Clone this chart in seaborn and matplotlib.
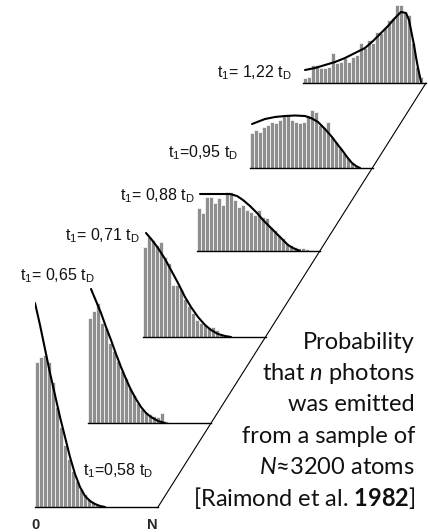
import numpy as np
import pandas as pd
import matplotlib
matplotlib.use("Agg")
import matplotlib.pyplot as plt
import seaborn as sns
from matplotlib.lines import Line2D

# ---------------- data ----------------
labels = ["=0,58", "= 0,65", "= 0,71", "= 0,88", "=0,95", "= 1,22"]

bars_058 = [145, 150, 152, 145, 125, 100, 80, 62, 48, 36, 26, 18, 13, 8, 5, 3, 2, 1]
bars_065 = [105, 112, 120, 100, 95, 80, 72, 62, 52, 45, 35, 28, 20, 14, 11, 9, 7, 6, 10, 2]
bars_071 = [90, 100, 97, 92, 95, 80, 74, 52, 52, 48, 38, 31, 24, 17, 14, 12, 10, 10, 7, 2, 1]
bars_088 = [43, 38, 54, 54, 48, 53, 46, 59, 59, 51, 44, 46, 41, 39, 36, 41, 34, 33, 24, 21,
            16, 13, 8, 6, 4, 3, 3, 2, 1]
bars_095 = [35, 38, 36, 41, 43, 46, 45, 48, 53, 53, 48, 46, 45, 46, 53, 58, 56, 43, 41, 46,
            31, 26, 20, 15, 10, 5, 2, 1]
bars_122 = [5, 6, 18, 18, 15, 15, 16, 30, 20, 21, 25, 21, 26, 28, 40, 35, 43, 40, 51, 50,
            55, 63, 65, 78, 78, 70, 68, 40, 16, 6]

curve_058_x = [-0.5, 0.75, 2.0, 3.25, 4.5, 5.75, 7.0, 8.25, 9.5, 10.75, 12.0, 13.25, 14.5, 15.75, 17.0]
curve_058_y = [204, 182, 158, 134, 112, 90, 70, 50, 33, 20, 11, 6, 3, 1, 0]

curve_065_x = [0.25, 1.5, 2.75, 4.0, 5.25, 6.5, 7.75, 9.0, 10.25, 11.5, 12.75, 14.0, 15.25, 17.0, 18.75]
curve_065_y = [134, 122, 110, 96, 83, 69, 56, 44, 33, 24, 16, 10, 6, 2, 0]

curve_071_x = [0.25, 1.75, 3.25, 5.0, 6.5, 8.25, 10.0, 11.5, 13.25, 15.0, 16.5, 18.25, 20.0, 21.5]
curve_071_y = [104, 97, 89, 78, 67, 54, 40, 30, 20, 12, 7, 3, 1, 0]

curve_088_x = [0.25, 3.25, 5.75, 7.75, 9.5, 11.0, 12.75, 14.5, 16.0, 17.75, 19.5, 21.0, 22.25, 23.5, 25.25]
curve_088_y = [57, 57, 57, 57, 55, 51, 45, 38, 31, 24, 17, 11, 6, 3, 0]

curve_095_x = [0.0, 3.25, 5.75, 8.25, 10.75, 13.25, 15.0, 16.5, 18.25, 20.0, 21.5, 22.5, 23.75, 25.0, 26.0, 27.0]
curve_095_y = [44, 49, 51, 52, 52.5, 52, 49.5, 46, 39, 31, 23, 18, 11, 5, 2, 0]

curve_122_x = [0.0, 2.5, 5.0, 7.5, 10.0, 12.5, 15.0, 17.0, 19.0, 20.75, 22.5, 24.0, 25.25, 26.0,
               26.5, 27.25, 27.75, 28.25, 28.75, 29.0]
curve_122_y = [13, 15, 18, 21, 25, 30, 35, 42, 50, 57, 65, 71, 70, 63, 53, 38, 26, 15, 6, 1]

bars_all = [bars_058, bars_065, bars_071, bars_088, bars_095, bars_122]
curves_x = [curve_058_x, curve_065_x, curve_071_x, curve_088_x, curve_095_x, curve_122_x]
curves_y = [curve_058_y, curve_065_y, curve_071_y, curve_088_y, curve_095_y, curve_122_y]

note_lines = ["Probability", r"that $\mathit{n}$ photons", "was emitted",
              "from a sample of", r"$\mathit{N}$≈3200 atoms",
              r"[Raimond et al. $\mathbf{1982}$]"]

# ---------------- style ----------------
sns.set_style("white")
plt.rcParams['font.family'] = ['Liberation Sans', 'DejaVu Sans']
plt.rcParams['mathtext.fontset'] = 'custom'
plt.rcParams['mathtext.rm'] = 'Lato'
plt.rcParams['mathtext.it'] = 'Lato:italic'
plt.rcParams['mathtext.bf'] = 'Lato:bold'

W, Hf = 428, 532
fig = plt.figure(figsize=(W / 100, Hf / 100), dpi=100)

lefts = [35, 88, 143, 197, 250, 303]
bases = [507, 423, 337, 251, 168, 83]
pw = 123
bin_px = 4.0

for L, B, bars, cx, cy in zip(lefts, bases, bars_all, curves_x, curves_y):
    h = min(215, B)
    ax = fig.add_axes([L / W, 1 - B / Hf, pw / W, h / Hf])
    df = pd.DataFrame({"n": np.arange(len(bars)), "p": bars})
    sns.barplot(data=df, x="n", y="p", ax=ax, color="#8e8e8e", saturation=1,
                width=1.0, edgecolor="white", linewidth=0.5)
    sns.lineplot(x=cx, y=cy, ax=ax, color="black", linewidth=1.5)
    ax.set_xlim(-0.5, -0.5 + pw / bin_px)
    ax.set_ylim(0, h)
    for s in ["top", "left", "right"]:
        ax.spines[s].set_visible(False)
    ax.spines["bottom"].set_color("black")
    ax.spines["bottom"].set_linewidth(1.0)
    ax.set_xticks([])
    ax.set_yticks([])
    ax.set_xlabel("")
    ax.set_ylabel("")
    ax.patch.set_alpha(0)

# diagonal joining the N ends
x1, y1 = lefts[0] + pw, bases[0]
x2, y2 = lefts[-1] + pw, bases[-1]
fig.add_artist(Line2D([x1 / W, x2 / W], [1 - y1 / Hf, 1 - y2 / Hf],
                      transform=fig.transFigure, color="black", linewidth=0.8))

# panel labels
label_pos = [(83, 475), (20, 280), (65, 240), (120, 200), (168, 157), (217, 77)]
for lab, (lx, ly) in zip(labels, label_pos):
    fig.text(lx / W, 1 - ly / Hf, r"$\mathregular{t_1}$" + lab + r" $\mathregular{t_D}$",
             fontsize=11.5, va="baseline", ha="left", color="#111111",
             family=["Liberation Sans", "DejaVu Sans"])

fig.text(35 / W, 1 - 529 / Hf, "0", fontsize=10.5, fontweight="bold", ha="center", va="baseline")
fig.text(152 / W, 1 - 529 / Hf, "N", fontsize=10.5, fontweight="bold", ha="center", va="baseline")

note_y = [349, 380, 411, 443, 474, 506]
for line, ny in zip(note_lines, note_y):
    fig.text(415 / W, 1 - ny / Hf, line, fontsize=17, family=["Lato", "DejaVu Sans"],
             ha="right", va="baseline", color="#111111")

fig.savefig("out.png", dpi=100)
